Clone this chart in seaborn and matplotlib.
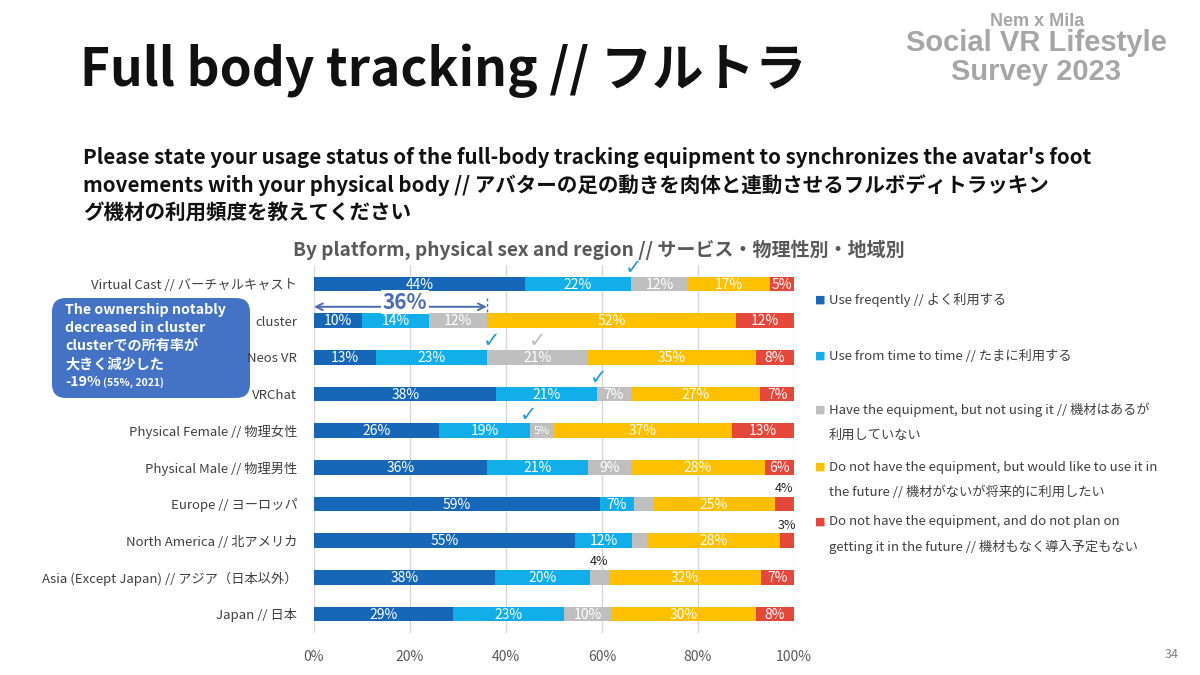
import numpy as np
import pandas as pd
import seaborn as sns
import matplotlib.pyplot as plt
from matplotlib.patches import FancyBboxPatch

sns.set_theme(style="white")
plt.rcParams["font.family"] = ["Noto Sans CJK JP", "DejaVu Sans"]

# data (percent)
categories = ["Virtual Cast // バーチャルキャスト", "cluster", "Neos VR", "VRChat",
              "Physical Female // 物理女性", "Physical Male // 物理男性",
              "Europe // ヨーロッパ", "North America // 北アメリカ",
              "Asia (Except Japan) // アジア（日本以外）", "Japan // 日本"]
use_frequently = [44, 10, 13, 38, 26, 36, 59, 55, 38, 29]
use_sometimes = [22, 14, 23, 21, 19, 21, 7, 12, 20, 23]
have_not_using = [12, 12, 21, 7, 5, 9, 4, 3, 4, 10]
want_future = [17, 52, 35, 27, 37, 28, 25, 28, 32, 30]
no_plan = [5, 12, 8, 7, 13, 6, 4, 3, 7, 8]

series_labels = ["Use freqently // よく利用する",
                 "Use from time to time // たまに利用する",
                 "Have the equipment, but not using it // 機材はあるが\n利用していない",
                 "Do not have the equipment, but would like to use it in\nthe future // 機材がないが将来的に利用したい",
                 "Do not have the equipment, and do not plan on\ngetting it in the future // 機材もなく導入予定もない"]
colors = ["#1767B8", "#12AEEA", "#BFBFBF", "#FFC000", "#E5473A"]

# small segments labelled above the bar / not labelled at all
outside_labels = [(6, 4), (7, 4), (8, 2)]
hidden_labels = [(6, 2), (7, 2)]
# check marks: (row, x position %, colour)
checks = [(0, 66.5, "#2A9AD6"), (2, 37.0, "#2A9AD6"), (2, 46.5, "#BFBFBF"),
          (3, 59.4, "#2A9AD6"), (4, 44.8, "#2A9AD6")]

df = pd.DataFrame({"s0": use_frequently, "s1": use_sometimes, "s2": have_not_using,
                   "s3": want_future, "s4": no_plan}, index=categories)
pct = df.div(df.sum(axis=1), axis=0) * 100
cum = pct.cumsum(axis=1)

fig = plt.figure(figsize=(12, 6.75), dpi=100)
bg = fig.add_axes([0, 0, 1, 1])
bg.set_xlim(0, 1200)
bg.set_ylim(675, 0)
bg.axis("off")

ax = fig.add_axes([314 / 1200, 1 - 633 / 675, 480 / 1200, 368 / 675])

# stacked bars: draw cumulative totals from the back
for k in reversed(range(5)):
    col = f"s{k}"
    sns.barplot(x=cum[col].values, y=categories, order=categories, color=colors[k],
                saturation=1, width=0.4, orient="h", errorbar=None, linewidth=0, ax=ax)

for i in range(len(categories)):
    for k in range(5):
        if (i, k) in hidden_labels:
            continue
        v = df.iloc[i, k]
        mid = cum.iloc[i, k] - pct.iloc[i, k] / 2
        if (i, k) in outside_labels:
            ax.text(mid, i - 0.42, f"{v}%", ha="center", va="center", fontsize=9, color="#222222")
        else:
            fs = 8 if v <= 5 and k == 2 else 10
            ax.text(mid, i + 0.02, f"{v}%", ha="center", va="center", fontsize=fs, color="white")

for row, xp, c in checks:
    ax.text(xp, row - 0.44, "✓", ha="center", va="center", fontsize=15, color=c,
            fontweight="bold", family=["DejaVu Sans"])

# 36% annotation on cluster
ann_col = "#4A6BB3"
edge = cum.iloc[1, 2]
ax.annotate("", xy=(0, 0.62), xytext=(edge, 0.62),
            arrowprops=dict(arrowstyle="<->", color=ann_col, lw=1.4, shrinkA=0, shrinkB=0))
ax.plot([edge, edge], [0.38, 0.8], color=ann_col, lw=1, ls=(0, (2, 2)))
ax.text(19, 0.5, f"{edge:.0f}%", ha="center", va="center", fontsize=15, fontweight="bold",
        color=ann_col, bbox=dict(facecolor="white", edgecolor="none", pad=1))

ax.set_xlim(0, 100)
ax.set_ylim(9.52, -0.52)
ax.set_xticks(range(0, 101, 20))
ax.set_xticklabels([f"{t}%" for t in range(0, 101, 20)])
ax.xaxis.grid(True, color="#D9D9D9", lw=1)
ax.set_axisbelow(True)
ax.set_xlabel("")
ax.set_ylabel("")
for s in ax.spines.values():
    s.set_visible(False)
ax.tick_params(axis="y", length=0, pad=12, labelsize=9.5, labelcolor="#404040")
ax.tick_params(axis="x", length=0, pad=12, labelsize=10, labelcolor="#595959")

# titles
bg.text(80, 71, "Full body tracking // フルトラ", fontsize=37, fontweight="bold",
        color="#111111", va="center", ha="left")
sub = ["Please state your usage status of the full-body tracking equipment to synchronizes the avatar's foot",
       "movements with your physical body // アバターの足の動きを肉体と連動させるフルボディトラッキン",
       "グ機材の利用頻度を教えてください"]
for j, line in enumerate(sub):
    bg.text(83, 158 + 27 * j, line, fontsize=14.8, fontweight="bold", color="#111111",
            va="center", ha="left")
bg.text(599, 250, "By platform, physical sex and region // サービス・物理性別・地域別",
        fontsize=13.7, fontweight="bold", color="#595959", ha="center", va="center")

# logo
logo = "#A6A6A6"
bg.text(1037, 21, "Nem x Mila", fontsize=13, fontweight="bold", color=logo,
        ha="center", va="center", family=["Liberation Sans"])
bg.text(1036, 43, "Social VR Lifestyle", fontsize=21, fontweight="bold", color=logo,
        ha="center", va="center", family=["Liberation Sans"])
bg.text(1036, 72, "Survey 2023", fontsize=21, fontweight="bold", color=logo,
        ha="center", va="center", family=["Liberation Sans"])
bg.text(1172, 655, "34", fontsize=9, color="#808080", ha="center", va="center")

# callout box
box = FancyBboxPatch((52, 298), 198, 100, boxstyle="round,pad=0,rounding_size=14",
                     facecolor="#4472C4", edgecolor="none")
bg.add_patch(box)
box_lines = ["The ownership notably", "decreased in cluster", "clusterでの所有率が", "大きく減少した"]
for j, line in enumerate(box_lines):
    bg.text(65, 310 + 18 * j, line, fontsize=10.2, fontweight="bold", color="white",
            va="center", ha="left")
bg.text(65, 382, "-19%", fontsize=10.2, fontweight="bold", color="white", va="center", ha="left")
bg.text(103, 383, "(55%, 2021)", fontsize=7.5, fontweight="bold", color="white", va="center", ha="left")

# legend
leg_y = [300, 356, 410, 467, 522]
for k, lab in enumerate(series_labels):
    bg.text(820, leg_y[k], "■", fontsize=8, color=colors[k], ha="center", va="center",
            family=["DejaVu Sans"])
    for j, line in enumerate(lab.split("\n")):
        bg.text(829, leg_y[k] + 25 * j, line, fontsize=9.5, color="#404040",
                ha="left", va="center")

fig.savefig("out.png", dpi=100)
